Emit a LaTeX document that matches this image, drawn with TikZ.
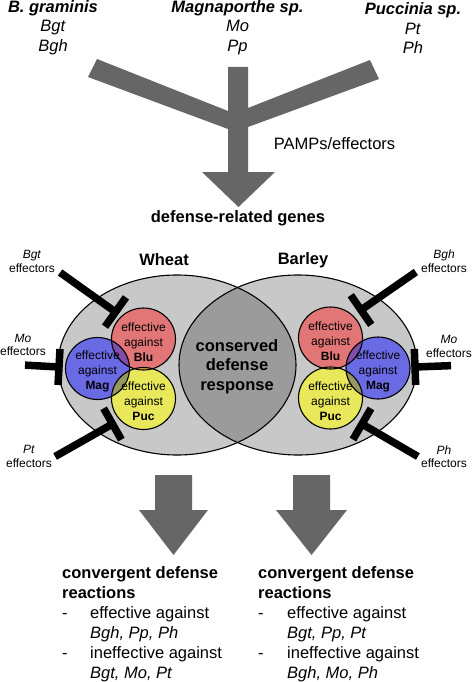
\documentclass[tikz,border=0pt]{standalone}
\usepackage{fontspec}
\setmainfont{Liberation Sans}
\usepackage{tikz}
\usetikzlibrary{calc}

\definecolor{hostgray}{RGB}{200,200,200}
\definecolor{lensgray}{RGB}{155,155,155}
\definecolor{arrowgray}{RGB}{102,102,102}
\definecolor{blucol}{RGB}{226,118,118}
\definecolor{magcol}{RGB}{106,106,228}
\definecolor{puccol}{RGB}{232,232,90}
\definecolor{blumag}{RGB}{128,78,168}
\definecolor{blupuc}{RGB}{228,166,60}
\definecolor{magpuc}{RGB}{150,150,96}

\newcommand{\eff}[1]{effective\\against\\\textbf{#1}}
\newcommand{\hostshape}{ellipse [x radius=119, y radius=90]}
\newcommand{\effshape}{ellipse [x radius=32, y radius=31]}

\tikzset{
  big/.style={font=\fontsize{16.5}{19.5}\selectfont, align=center, inner sep=0pt},
  small/.style={font=\fontsize{12}{13.5}\selectfont, align=center, inner sep=1pt},
  effline/.style={font=\fontsize{12}{15}\selectfont, align=center, inner sep=0pt},
  outcome/.style={font=\fontsize{16.5}{20}\selectfont, align=left, inner sep=0pt, anchor=north west},
  inhibit/.style={line width=7.5pt},
  bigarrow/.style={fill=arrowgray},
}

\begin{document}
\begin{tikzpicture}[x=1pt, y=-1pt]
    \fill[white] (0,0) rectangle (473,682);
    \useasboundingbox (0,0) rectangle (473,682);

    % pathogens on top
    \node[big] (bgr) at (53,27.5) {\textbf{\textit{B. graminis}}\\\textit{Bgt}\\\textit{Bgh}};
    \node[big] (magn) at (237.5,27.5) {\textbf{\textit{Magnaporthe sp.}}\\\textit{Mo}\\\textit{Pp}};
    \node[big] (pucc) at (413,28.5) {\textbf{\textit{Puccinia sp.}}\\\textit{Pt}\\\textit{Ph}};

    % merging arrow
    \fill[bigarrow] (97,59) -- (228,111) -- (228,67) -- (248,67) -- (248,108) -- (370,60)
        -- (379,79) -- (248,127) -- (248,172) -- (275,172) -- (238.5,207) -- (202,172)
        -- (228,172) -- (228,129) -- (88,77) -- cycle;
    \node[big] (pamps) at (334.5,144) {PAMPs/effectors};
    \node[big] (genes) at (238,218) {\textbf{defense-related genes}};

    % hosts
    \coordinate (wheatc) at (177,365);
    \coordinate (barleyc) at (298,365);
    \fill[hostgray] (wheatc) \hostshape;
    \fill[hostgray] (barleyc) \hostshape;
    \begin{scope}
        \clip (wheatc) \hostshape;
        \fill[lensgray] (barleyc) \hostshape;
    \end{scope}
    \draw[line width=1.1pt] (wheatc) \hostshape;
    \draw[line width=1.1pt] (barleyc) \hostshape;
    \node[big] (wheat) at (164,260) {\textbf{Wheat}};
    \node[big] (barley) at (303,260) {\textbf{Barley}};
    \node[big] (conserved) at (237,366.5) {\textbf{conserved}\\\textbf{defense}\\\textbf{response}};

    % resistance circles
    \coordinate (wblu) at (143.5,339);
    \coordinate (wmag) at (97.5,368.5);
    \coordinate (wpuc) at (143.5,398.5);
    \coordinate (bblu) at (330.5,338);
    \coordinate (bmag) at (378,368);
    \coordinate (bpuc) at (330.5,398);
    \foreach \h in {w,b} {
        \fill[blucol] (\h blu) \effshape;
        \fill[magcol] (\h mag) \effshape;
        \fill[puccol] (\h puc) \effshape;
        \begin{scope}
            \clip (\h blu) \effshape;
            \fill[blumag] (\h mag) \effshape;
            \fill[blupuc] (\h puc) \effshape;
        \end{scope}
        \begin{scope}
            \clip (\h mag) \effshape;
            \fill[magpuc] (\h puc) \effshape;
        \end{scope}
        \foreach \c in {blu,mag,puc}
            \draw[line width=1.1pt] (\h\c) \effshape;
    }
    \node[effline] (wblut) at ([yshift=-3pt]wblu) {\eff{Blu}};
    \node[effline] (wmagt) at ([yshift=-3pt]wmag) {\eff{Mag}};
    \node[effline] (wpuct) at ([yshift=-3pt]wpuc) {\eff{Puc}};
    \node[effline] (bblut) at ([yshift=-3pt]bblu) {\eff{Blu}};
    \node[effline] (bmagt) at ([yshift=-3pt]bmag) {\eff{Mag}};
    \node[effline] (bpuct) at ([yshift=-3pt]bpuc) {\eff{Puc}};

    % effectors
    \node[small] (lbgt) at (32,261.5) {\textit{Bgt}\\effectors};
    \node[small] (lmo) at (23,345) {\textit{Mo}\\effectors};
    \node[small] (lpt) at (29,456.5) {\textit{Pt}\\effectors};
    \node[small] (rbgh) at (444,261) {\textit{Bgh}\\effectors};
    \node[small] (rmo) at (449,346.5) {\textit{Mo}\\effectors};
    \node[small] (rph) at (444,456.5) {\textit{Ph}\\effectors};
    \coordinate (sbgt) at ([shift={(4,11)}]lbgt.east);
    \coordinate (smo) at ([shift={(2,8)}]lmo.south);
    \coordinate (spt) at ([shift={(2,0)}]lpt.east);
    \coordinate (sbgh) at ([shift={(-4,11)}]rbgh.west);
    \coordinate (smor) at ([shift={(2,7)}]rmo.south);
    \coordinate (sph) at ([shift={(-2,0)}]rph.west);
    \coordinate (tbgt) at (115.5,312);
    \coordinate (tmo) at (59,367);
    \coordinate (tpt) at (112.5,424);
    \coordinate (tbgh) at (361,310);
    \coordinate (tmor) at (415,367);
    \coordinate (tph) at (362,424);
    \foreach \s/\t in {sbgt/tbgt, smo/tmo, spt/tpt, sbgh/tbgh, smor/tmor, sph/tph} {
        \draw[inhibit] (\s) -- (\t);
        \draw[inhibit] ($(\t)!18pt!90:(\s)$) -- ($(\t)!18pt!-90:(\s)$);
    }

    % outcome arrows
    \fill[bigarrow] (155,475) -- (192,475) -- (192,510) -- (208,510) -- (173.5,555)
        -- (139,510) -- (155,510) -- cycle;
    \fill[bigarrow] (293,475) -- (330,475) -- (330,510) -- (347,510) -- (311.5,555)
        -- (276,510) -- (293,510) -- cycle;

    \node[outcome] (wout) at (62,566) {\textbf{convergent defense}\\\textbf{reactions}\\
        \makebox[28pt][l]{-}effective against\\\hspace*{28pt}\textit{Bgh, Pp, Ph}\\
        \makebox[28pt][l]{-}ineffective against\\\hspace*{28pt}\textit{Bgt, Mo, Pt}};
    \node[outcome] (bout) at (258,566) {\textbf{convergent defense}\\\textbf{reactions}\\
        \makebox[29pt][l]{-}effective against\\\hspace*{29pt}\textit{Bgt, Pp, Pt}\\
        \makebox[29pt][l]{-}ineffective against\\\hspace*{29pt}\textit{Bgh, Mo, Ph}};
\end{tikzpicture}
\end{document}
